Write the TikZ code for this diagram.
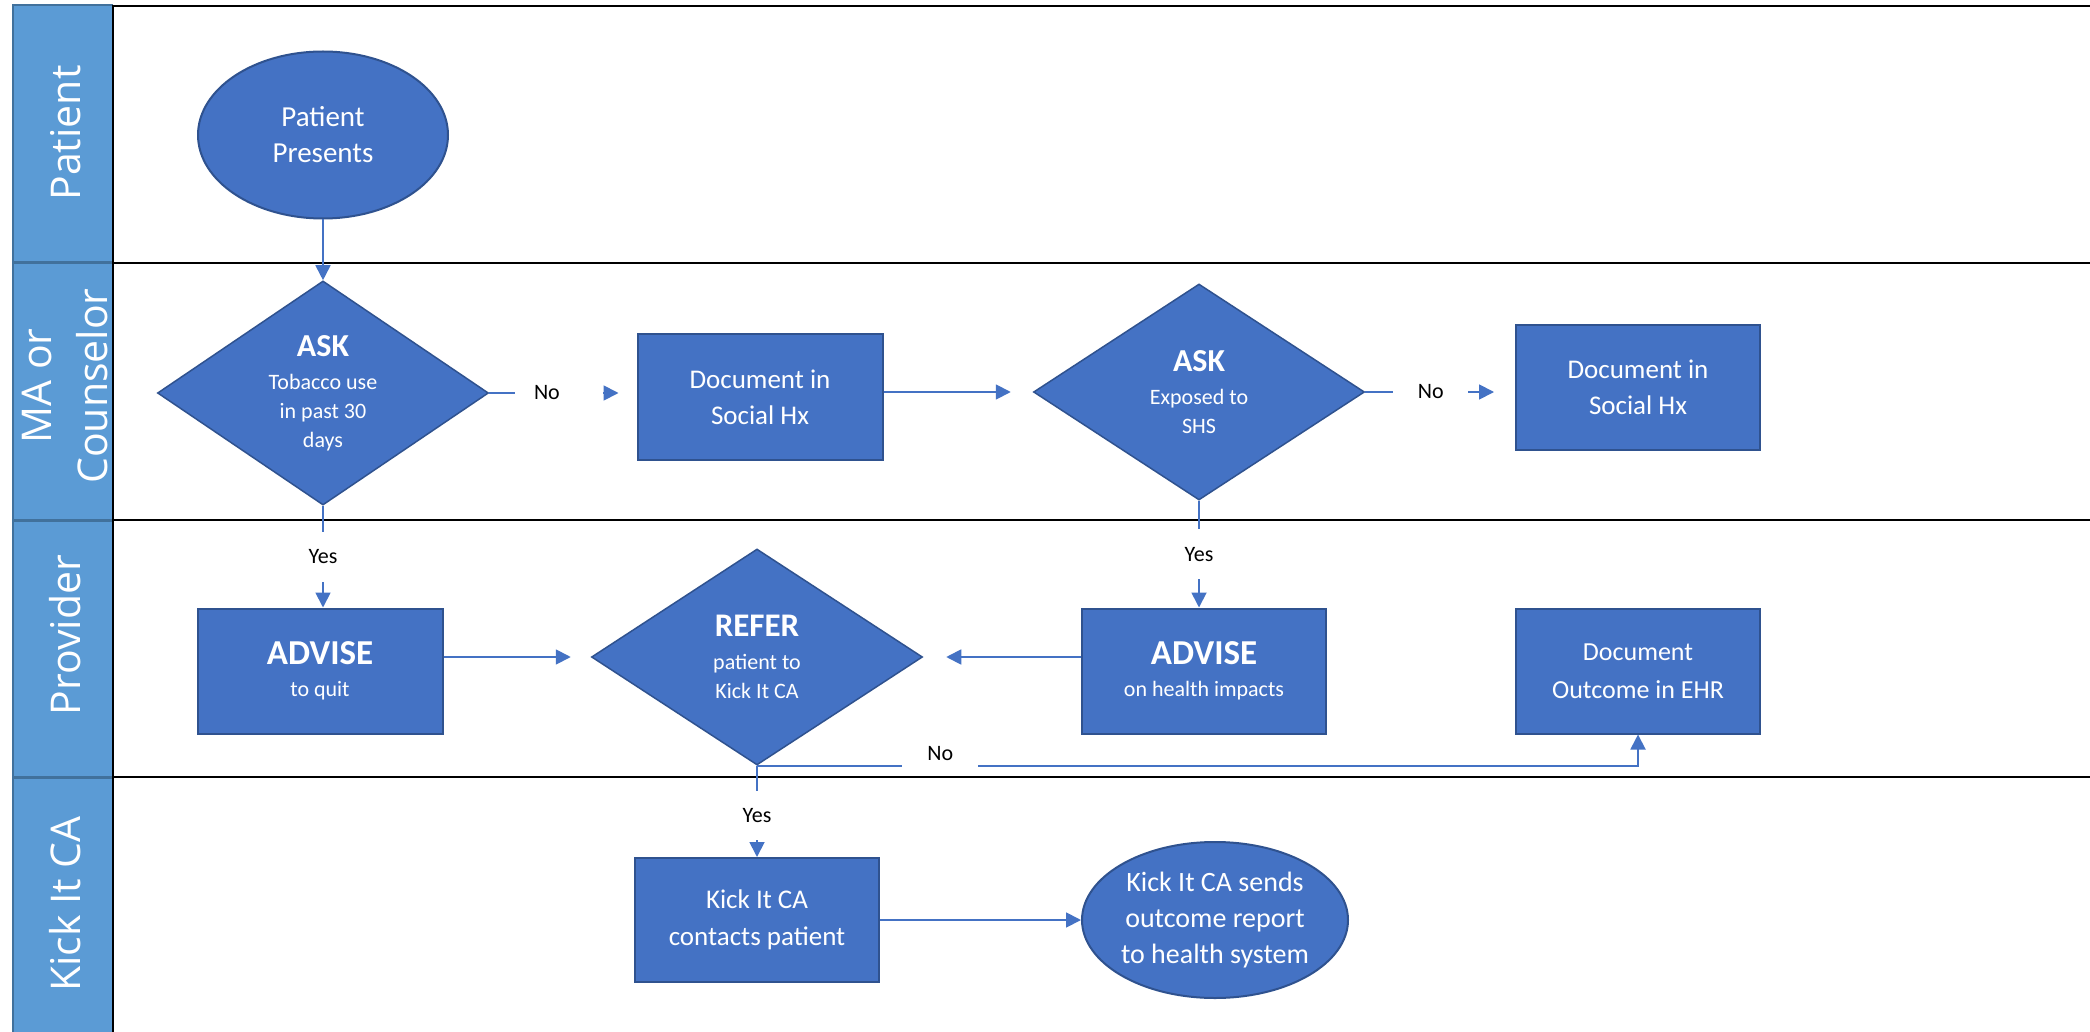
\documentclass[tikz,border=0pt]{standalone}
\usepackage{fontspec}
\setmainfont{Carlito}
\newfontfamily\hdrfont{Open Sans}
\usetikzlibrary{shapes.geometric,arrows.meta}
\definecolor{boxblue}{HTML}{4472C4}
\definecolor{boxedge}{HTML}{2F528F}
\definecolor{hdrblue}{HTML}{5B9BD5}
\definecolor{hdredge}{HTML}{41719C}
\tikzset{
  proc/.style={rectangle, fill=boxblue, draw=boxedge, line width=2pt, text=white, align=center, inner sep=0pt},
  dec/.style={diamond, fill=boxblue, draw=boxedge, line width=1.5pt, text=white, align=center, inner sep=0pt, minimum width=331pt, minimum height=216pt, font=\fontsize{22}{29}\selectfont},
  term/.style={ellipse, fill=boxblue, draw=boxedge, line width=2pt, text=white, align=center, inner sep=0pt},
  conn/.style={draw=boxblue, line width=1.8pt, -{Triangle[length=15pt,width=15pt]}},
  lbl/.style={fill=white, text=black, font=\fontsize{22}{26}\selectfont, inner sep=0pt},
  laneline/.style={draw=black, line width=2.5pt},
  hdr/.style={text=white, rotate=90, font=\hdrfont\fontsize{41}{56}\selectfont, align=center, inner sep=0pt}
}
\begin{document}
\begin{tikzpicture}[x=1pt,y=-1pt]
\useasboundingbox (0,0) rectangle (2090,1032);
\fill[white] (0,0) rectangle (2090,1032);
% header column
\fill[hdrblue] (13,5) rectangle (113,1032);
\draw[hdredge, line width=1.5pt] (13,1032) -- (13,5) -- (113,5);
\foreach \yy in {263,520,777} \draw[hdredge, line width=3pt] (13,\yy) -- (113,\yy);
% lane lines
\draw[laneline] (113,6) -- (2090,6);
\foreach \yy in {263,520,777} \draw[laneline] (113,\yy) -- (2090,\yy);
\draw[laneline] (113,5) -- (113,1032);
% lane labels
\node[hdr] (hpat) at (66,133) {Patient};
\node[hdr] (hma) at (65,386) {MA or\\Counselor};
\node[hdr] (hprov) at (65,635) {Provider};
\node[hdr] (hkick) at (65,904) {Kick It CA};
% shapes
\node[term, minimum width=250pt, minimum height=167pt, font=\fontsize{29}{36}\selectfont] (pp) at (323,135) {Patient\\Presents};
\node[dec] (ask1) at (323,393) {{\bfseries\fontsize{32}{36}\selectfont ASK}\\[4pt]Tobacco use\\in past 30\\days};
\node[proc, minimum width=245pt, minimum height=126pt, font=\fontsize{27}{36}\selectfont] (box1) at (760,397) {Document in\\Social Hx};
\node[dec] (ask2) at (1199,392) {{\bfseries\fontsize{32}{36}\selectfont ASK}\\[4pt]Exposed to\\SHS};
\node[proc, minimum width=244pt, minimum height=125pt, font=\fontsize{27}{36}\selectfont] (box2) at (1638,387) {Document in\\Social Hx};
\node[proc, minimum width=245pt, minimum height=125pt, font=\fontsize{22}{29}\selectfont] (adv1) at (320,671) {{\bfseries\fontsize{35}{40}\selectfont ADVISE}\\[3pt]to quit};
\node[dec] (refer) at (757,657) {{\bfseries\fontsize{33}{36}\selectfont REFER}\\[4pt]patient to\\Kick It CA};
\node[proc, minimum width=244pt, minimum height=125pt, font=\fontsize{22}{29}\selectfont] (adv2) at (1204,671) {{\bfseries\fontsize{35}{40}\selectfont ADVISE}\\[3pt]on health impacts};
\node[proc, minimum width=244pt, minimum height=125pt, font=\fontsize{26}{37.5}\selectfont] (doc) at (1638,671) {Document\\Outcome in EHR};
\node[proc, minimum width=244pt, minimum height=124pt, font=\fontsize{27}{36.5}\selectfont] (kick) at (757,920) {Kick It CA\\contacts patient};
\node[term, minimum width=266pt, minimum height=156pt, font=\fontsize{28}{36}\selectfont] (ell2) at (1215,920) {Kick It CA sends\\outcome report\\to health system};
% connectors
\draw[conn] (pp.south) -- (ask1.north);
\draw[conn, shorten >=18pt] (ask1.east) -- node[lbl, pos=0.473, inner xsep=19pt, minimum height=30pt] {No\hspace*{24pt}} (ask1.east -| box1.west);
\draw[conn, shorten >=22pt] (box1.east |- ask2.west) -- (ask2.west);
\draw[conn, shorten >=21pt] (ask2.east) -- node[lbl, pos=0.4375, minimum width=75pt, minimum height=30pt] {No} (ask2.east -| box2.west);
\draw[conn] (ask1.south) -- node[lbl, pos=0.5, minimum width=40pt, minimum height=50pt] {Yes} (ask1.south |- adv1.north);
\draw[conn] (ask2.south) -- node[lbl, pos=0.5, minimum width=40pt, minimum height=50pt] {Yes} (ask2.south |- adv2.north);
\draw[conn, shorten >=20pt] (adv1.east |- refer.west) -- (refer.west);
\draw[conn, shorten >=23pt] (adv2.west |- refer.east) -- (refer.east);
\draw[conn] (refer.south) -| node[lbl, pos=0.104, yshift=9.5pt, minimum width=76pt, text height=24pt, text depth=15pt] {No} (doc.south);
\draw[conn] (refer.south) -- node[lbl, pos=0.543, minimum width=40pt, minimum height=49pt] {Yes} (kick.north);
\draw[conn] (kick.east) -- (ell2.west);
\end{tikzpicture}
\end{document}
